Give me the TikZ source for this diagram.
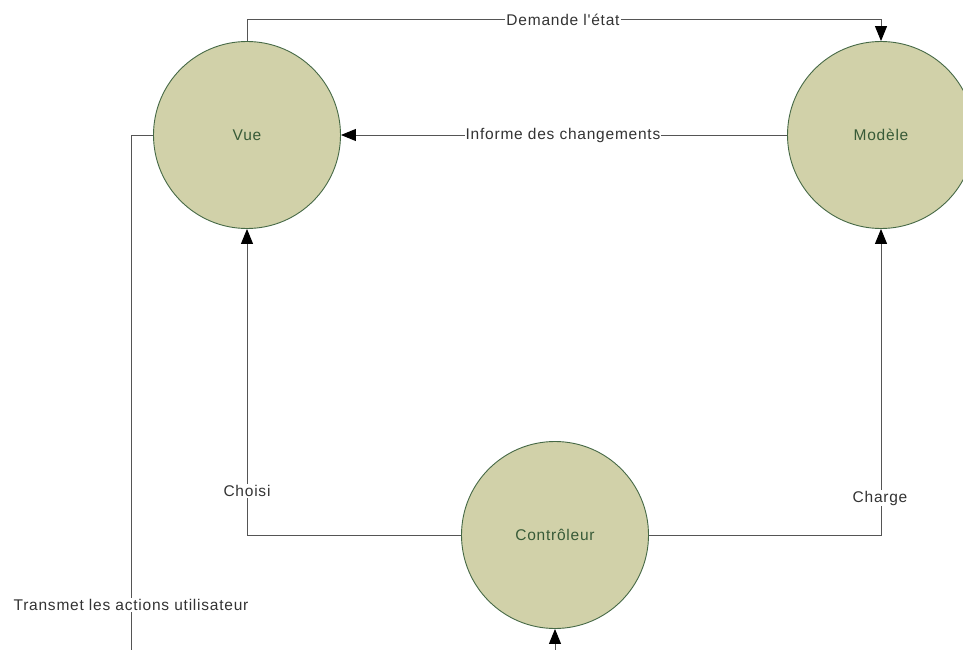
\documentclass[tikz,border=0pt]{standalone}
\usepackage{fontspec}
\setmainfont{Liberation Sans}
\newfontfamily\lblfont[LetterSpace=5]{Liberation Sans}
\usetikzlibrary{arrows.meta}
\definecolor{boule}{RGB}{209,209,169}
\definecolor{bord}{RGB}{70,105,70}
\definecolor{texte}{RGB}{55,90,55}
\definecolor{trait}{RGB}{85,85,85}
\tikzset{
  composant/.style={circle, draw=bord, fill=boule, line width=0.9pt, minimum size=187pt, inner sep=0pt,
    text=texte, font=\lblfont\fontsize{15.5}{18}\selectfont},
  lien/.style={draw=trait, line width=1pt, -{Triangle[length=15pt,width=12pt,color=black]}},
  etiquette/.style={fill=white, inner sep=1pt, text=black!80, font=\lblfont\fontsize{15.5}{18}\selectfont}
}
\begin{document}
\begin{tikzpicture}[x=1pt,y=-1pt]
    \useasboundingbox (0,0) rectangle (963,650);
    \clip (0,0) rectangle (963,650);

    % Composants
    \node[composant] (vue) at (247,135) {Vue};
    \node[composant] (modele) at (881,135) {Modèle};
    \node[composant] (ctrl) at (555,535) {Contrôleur};

    % Coins des liens
    \coordinate (haut) at (247,20);
    \coordinate (bas) at (131,700);

    % Liens
    \draw[lien] (vue.north) |- (haut -| modele.north) -- (modele.north);
    \draw[lien] (modele.west) -- (vue.east);
    \draw[lien] (ctrl.west) -| (vue.south);
    \draw[lien] (ctrl.east) -| (modele.south);
    \draw[lien] (vue.west) -| (bas) -| (ctrl.south);

    % Etiquettes
    \node[etiquette] (demande) at (563,20) {Demande l'état};
    \node[etiquette] (informe) at (563,135) {Informe des changements};
    \node[etiquette] (choisi) at (247,491) {Choisi};
    \node[etiquette] (charge) at (880,498) {Charge};
    \node[etiquette] (transmet) at (131,605) {Transmet les actions utilisateur};
\end{tikzpicture}
\end{document}
